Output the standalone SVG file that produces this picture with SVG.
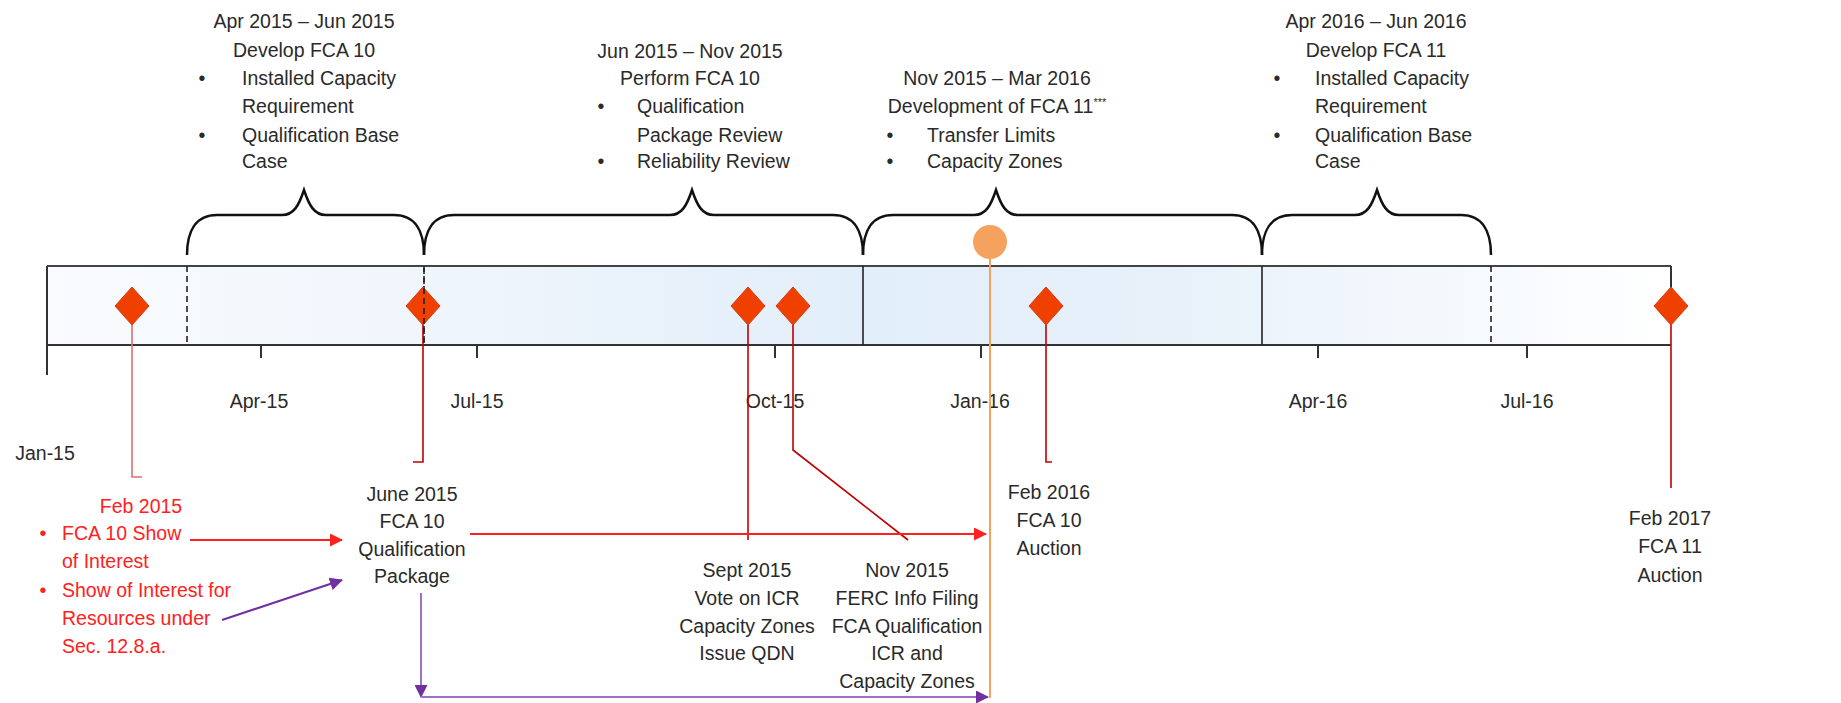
<svg xmlns="http://www.w3.org/2000/svg" width="1841" height="703" viewBox="0 0 1841 703">
<defs>
<linearGradient id="barfill" x1="0" y1="0" x2="1" y2="0">
<stop offset="0" stop-color="#f9fbfe"/>
<stop offset="0.25" stop-color="#eff5fc"/>
<stop offset="0.5" stop-color="#e2eef9"/>
<stop offset="0.7" stop-color="#e8f1fa"/>
<stop offset="1" stop-color="#ffffff"/>
</linearGradient>
<marker id="arRed" markerWidth="13" markerHeight="13" refX="12" refY="6.5" orient="auto" markerUnits="userSpaceOnUse"><path d="M0,0 L13,6.5 L0,13 Z" fill="#ff2020"/></marker>
<marker id="arPur" markerWidth="13" markerHeight="13" refX="12" refY="6.5" orient="auto" markerUnits="userSpaceOnUse"><path d="M0,0 L13,6.5 L0,13 Z" fill="#7030a0"/></marker>
<style>
text{font-family:"Liberation Sans",Arial,sans-serif;font-size:19.5px;fill:#2a2a2a}
.c{text-anchor:middle}
.red{fill:#ff2020}
.brace{fill:none;stroke:#111;stroke-width:2.5}
.div{stroke:#222;stroke-width:1.6}
.dash{stroke-dasharray:6,4}
.tick{stroke:#333;stroke-width:2}
.dia{fill:#f04000;stroke:#d83a10;stroke-width:1}
.lead{fill:none;stroke:#c00000;stroke-width:1.6}
</style>
</defs>

<g id="timeline">
<rect x="47" y="266" width="1624" height="79" fill="url(#barfill)"/>
<line x1="47" y1="266" x2="1671" y2="266" stroke="#444" stroke-width="2.2"/>
<line x1="47" y1="345" x2="1671" y2="345" stroke="#333" stroke-width="2.2"/>
<line x1="47" y1="266" x2="47" y2="375" class="tick"/>
<line x1="1671" y1="266" x2="1671" y2="300" class="tick"/>
<line x1="261" y1="345" x2="261" y2="358" class="tick"/>
<line x1="477" y1="345" x2="477" y2="358" class="tick"/>
<line x1="775" y1="345" x2="775" y2="358" class="tick"/>
<line x1="981" y1="345" x2="981" y2="358" class="tick"/>
<line x1="1318" y1="345" x2="1318" y2="358" class="tick"/>
<line x1="1527" y1="345" x2="1527" y2="358" class="tick"/>
<line x1="187" y1="266" x2="187" y2="345" class="div dash"/>
<line x1="424" y1="266" x2="424" y2="345" class="div dash"/>
<line x1="863" y1="266" x2="863" y2="345" class="div"/>
<line x1="1262" y1="266" x2="1262" y2="345" class="div"/>
<line x1="1491" y1="266" x2="1491" y2="345" class="div dash"/>
<text x="45" y="460" class="c">Jan-15</text>
<text x="259" y="408" class="c">Apr-15</text>
<text x="477" y="408" class="c">Jul-15</text>
<text x="775" y="408" class="c">Oct-15</text>
<text x="980" y="408" class="c">Jan-16</text>
<text x="1318" y="408" class="c">Apr-16</text>
<text x="1527" y="408" class="c">Jul-16</text>
</g>

<g id="braces">
<path class="brace" d="M187,255 C187,232 195,215 217,215 L282,215 C294,215 299,205 304,190 C309,205 314,215 326,215 L394,215 C416,215 424,232 424,255"/>
<path class="brace" d="M424,255 C424,232 432,215 454,215 L670,215 C682,215 687,205 692,190 C697,205 702,215 714,215 L833,215 C855,215 863,232 863,255"/>
<path class="brace" d="M863,255 C863,232 871,215 893,215 L974,215 C986,215 991,205 996,190 C1001,205 1006,215 1018,215 L1232,215 C1254,215 1262,232 1262,255"/>
<path class="brace" d="M1262,255 C1262,232 1270,215 1292,215 L1355,215 C1367,215 1372,205 1377,190 C1382,205 1387,215 1399,215 L1461,215 C1483,215 1491,232 1491,255"/>
</g>

<g id="phase1">
<text x="304" y="28" class="c">Apr 2015 – Jun 2015</text>
<text x="304" y="57" class="c">Develop FCA 10</text>
<text x="202" y="85" class="c">•</text>
<text x="242" y="85">Installed Capacity</text>
<text x="242" y="113">Requirement</text>
<text x="202" y="142" class="c">•</text>
<text x="242" y="142">Qualification Base</text>
<text x="242" y="168">Case</text>
</g>

<g id="phase2">
<text x="690" y="58" class="c">Jun 2015 – Nov 2015</text>
<text x="690" y="85" class="c">Perform FCA 10</text>
<text x="601" y="113" class="c">•</text>
<text x="637" y="113">Qualification</text>
<text x="637" y="142">Package Review</text>
<text x="601" y="168" class="c">•</text>
<text x="637" y="168">Reliability Review</text>
</g>

<g id="phase3">
<text x="997" y="85" class="c">Nov 2015 – Mar 2016</text>
<text x="997" y="113" class="c">Development of FCA 11<tspan font-size="11" dy="-7">***</tspan></text>
<text x="890" y="142" class="c">•</text>
<text x="927" y="142">Transfer Limits</text>
<text x="890" y="168" class="c">•</text>
<text x="927" y="168">Capacity Zones</text>
</g>

<g id="phase4">
<text x="1376" y="28" class="c">Apr 2016 – Jun 2016</text>
<text x="1376" y="57" class="c">Develop FCA 11</text>
<text x="1277" y="85" class="c">•</text>
<text x="1315" y="85">Installed Capacity</text>
<text x="1315" y="113">Requirement</text>
<text x="1277" y="142" class="c">•</text>
<text x="1315" y="142">Qualification Base</text>
<text x="1315" y="168">Case</text>
</g>

<g id="connectors">
<polyline points="132,325 132,477 142,477" fill="none" stroke="#e07070" stroke-width="1.6"/>
<polyline class="lead" points="423,325 423,462 413,462"/>
<polyline class="lead" points="748,325 748,540"/>
<polyline class="lead" points="793,325 793,450 908,540"/>
<polyline class="lead" points="1046,325 1046,462 1052,462"/>
<polyline class="lead" points="1671,325 1671,488"/>
<line x1="990" y1="250" x2="990" y2="698" stroke="#f4a25e" stroke-width="2"/>
<line x1="190" y1="540" x2="342" y2="540" stroke="#ff2020" stroke-width="2" marker-end="url(#arRed)"/>
<line x1="470" y1="534" x2="986" y2="534" stroke="#ff2020" stroke-width="2" marker-end="url(#arRed)"/>
<line x1="222" y1="620" x2="342" y2="580" stroke="#7030a0" stroke-width="2" marker-end="url(#arPur)"/>
<line x1="421" y1="593" x2="421" y2="697" stroke="#9a70c8" stroke-width="2" marker-end="url(#arPur)"/>
<line x1="421" y1="697" x2="988" y2="697" stroke="#9a70c8" stroke-width="2" marker-end="url(#arPur)"/>
</g>

<g id="m-feb2015">
<path class="dia" d="M132,287 L149,306 L132,325 L115,306 Z"/>
<text x="141" y="513" class="c red">Feb 2015</text>
<text x="43" y="540" class="c red">•</text>
<text x="62" y="540" class="red">FCA 10 Show</text>
<text x="62" y="568" class="red">of Interest</text>
<text x="43" y="597" class="c red">•</text>
<text x="62" y="597" class="red">Show of Interest for</text>
<text x="62" y="625" class="red">Resources under</text>
<text x="62" y="653" class="red">Sec. 12.8.a.</text>
</g>

<g id="m-jun2015">
<path class="dia" d="M423,287 L440,306 L423,325 L406,306 Z"/>
<line x1="424" y1="268" x2="424" y2="343" class="div dash"/>
<text x="412" y="501" class="c">June 2015</text>
<text x="412" y="528" class="c">FCA 10</text>
<text x="412" y="556" class="c">Qualification</text>
<text x="412" y="583" class="c">Package</text>
</g>

<g id="m-sep2015">
<path class="dia" d="M748,287 L765,306 L748,325 L731,306 Z"/>
<text x="747" y="577" class="c">Sept 2015</text>
<text x="747" y="605" class="c">Vote on ICR</text>
<text x="747" y="633" class="c">Capacity Zones</text>
<text x="747" y="660" class="c">Issue QDN</text>
</g>

<g id="m-nov2015">
<path class="dia" d="M793,287 L810,306 L793,325 L776,306 Z"/>
<text x="907" y="577" class="c">Nov 2015</text>
<text x="907" y="605" class="c">FERC Info Filing</text>
<text x="907" y="633" class="c">FCA Qualification</text>
<text x="907" y="660" class="c">ICR and</text>
<text x="907" y="688" class="c">Capacity Zones</text>
</g>

<g id="m-now">
<circle cx="990" cy="242" r="17" fill="#f4a25e"/>
</g>

<g id="m-feb2016">
<path class="dia" d="M1046,287 L1063,306 L1046,325 L1029,306 Z"/>
<text x="1049" y="499" class="c">Feb 2016</text>
<text x="1049" y="527" class="c">FCA 10</text>
<text x="1049" y="555" class="c">Auction</text>
</g>

<g id="m-feb2017">
<path class="dia" d="M1671,287 L1688,306 L1671,325 L1654,306 Z"/>
<text x="1670" y="525" class="c">Feb 2017</text>
<text x="1670" y="553" class="c">FCA 11</text>
<text x="1670" y="582" class="c">Auction</text>
</g>
</svg>
